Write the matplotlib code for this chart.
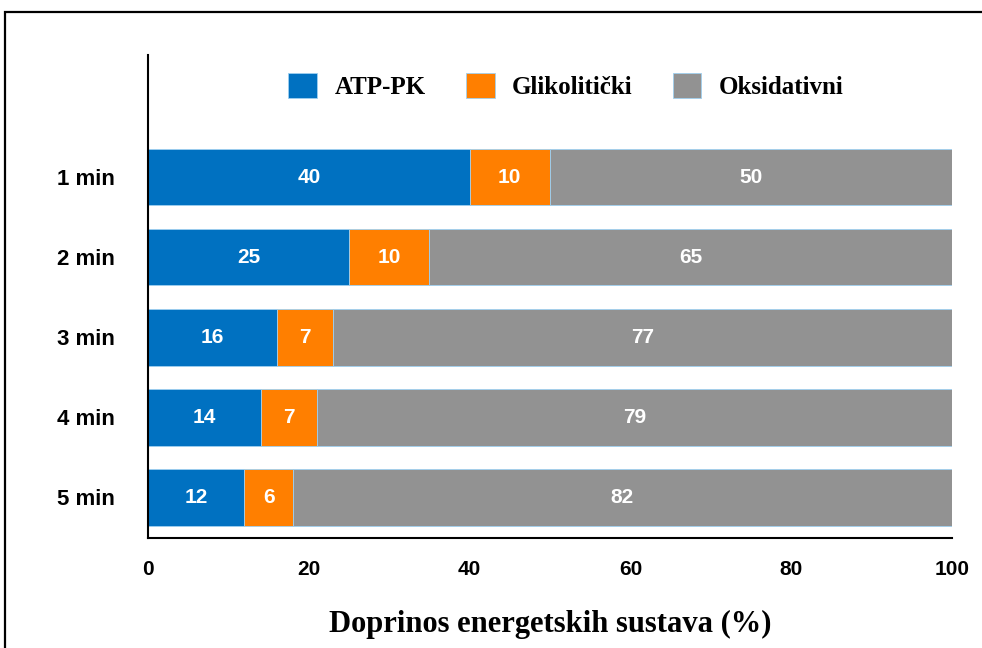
import matplotlib
matplotlib.use("Agg")
import matplotlib.pyplot as plt
from matplotlib.patches import Rectangle
import numpy as np

categories = ["1 min", "2 min", "3 min", "4 min", "5 min"]
atp_pk = [40, 25, 16, 14, 12]
glikoliticki = [10, 10, 7, 7, 6]
oksidativni = [50, 65, 77, 79, 82]
series_names = ["ATP-PK", "Glikolitički", "Oksidativni"]
colors = ["#0071C1", "#FF7F00", "#929292"]

fig = plt.figure(figsize=(9.82, 6.48), dpi=100)
ax = fig.add_axes([148 / 982, 1 - 538 / 648, (952 - 148) / 982, (538 - 55) / 648])

# outer frame of the picture
fig.patches.append(Rectangle((5 / 982, -0.1), 1.2, 1 - 12 / 648 + 0.1,
                             transform=fig.transFigure, fill=False,
                             edgecolor="black", linewidth=1.6))

y = np.arange(len(categories))[::-1]
left = np.zeros(len(categories))
for vals, name, col in zip([atp_pk, glikoliticki, oksidativni], series_names, colors):
    bars = ax.barh(y, vals, left=left, height=0.71, color=col, label=name,
                   edgecolor="#9fd0f0", linewidth=0.6)
    for b, v in zip(bars, vals):
        ax.text(b.get_x() + b.get_width() / 2, b.get_y() + b.get_height() / 2, str(v),
                ha="center", va="center", color="white", fontsize=15,
                fontweight="bold", family="Liberation Sans")
    left += np.array(vals)

ax.set_xlim(0, 100)
ax.set_ylim(-0.51, 5.525)
ax.set_yticks(y)
ax.set_yticklabels(categories)
ax.set_xticks([0, 20, 40, 60, 80, 100])
ax.tick_params(length=0)
ax.tick_params(axis="y", pad=24, labelsize=16)
ax.tick_params(axis="x", pad=16, labelsize=15)
for lab in ax.get_xticklabels() + ax.get_yticklabels():
    lab.set_fontweight("bold")
    lab.set_family("Liberation Sans")
ax.spines["top"].set_visible(False)
ax.spines["right"].set_visible(False)
ax.spines["left"].set_linewidth(1.5)
ax.spines["bottom"].set_linewidth(1.5)

ax.set_xlabel("Doprinos energetskih sustava (%)", fontsize=22, fontweight="bold",
              family="Liberation Serif", labelpad=22)

ax.legend(loc="upper center", bbox_to_anchor=(0.52, 1.01), ncol=3, frameon=False,
          prop={"family": "Liberation Serif", "weight": "bold", "size": 18},
          handlelength=1.15, handleheight=1.2, columnspacing=1.6, handletextpad=0.7)

fig.savefig("out.png", dpi=100)
